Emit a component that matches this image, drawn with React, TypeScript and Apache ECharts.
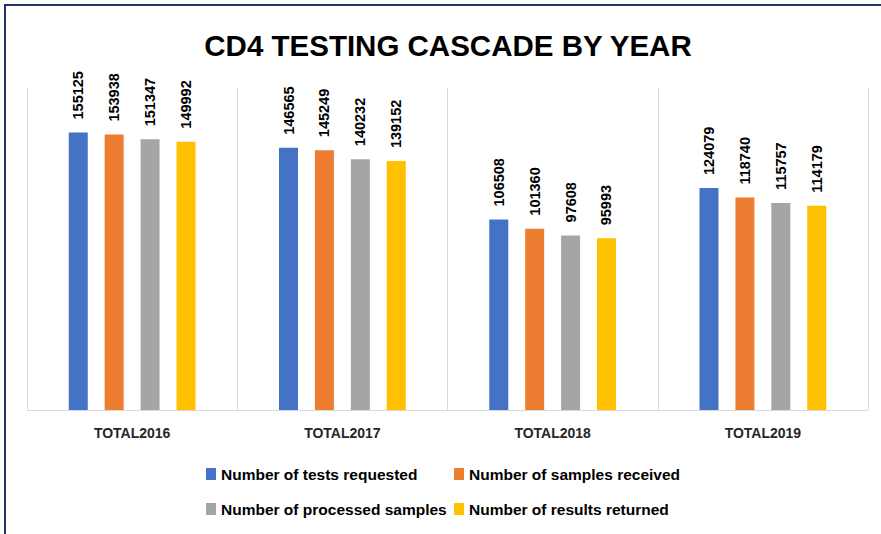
import React, { useEffect, useRef } from "react";
import * as echarts from "echarts";

const categories = ["TOTAL2016", "TOTAL2017", "TOTAL2018", "TOTAL2019"];
const seriesNames = [
  "Number of tests requested",
  "Number of samples received",
  "Number of processed samples",
  "Number of results returned",
];
const testsRequested = [155125, 146565, 106508, 124079];
const samplesReceived = [153938, 145249, 101360, 118740];
const processedSamples = [151347, 140232, 97608, 115757];
const resultsReturned = [149992, 139152, 95993, 114179];
const colors = ["#4472C4", "#ED7D31", "#A5A5A5", "#FFC000"];

const FONT = "'Liberation Sans', Arial, sans-serif";

export default function App() {
  const ref = useRef<HTMLDivElement>(null);
  useEffect(() => {
    if (!ref.current) return;
    const chart = echarts.init(ref.current, undefined, { renderer: "svg" });
    const values = [testsRequested, samplesReceived, processedSamples, resultsReturned];
    const legendPos = [
      { left: 206, top: 466 },
      { left: 454, top: 466 },
      { left: 206, top: 501 },
      { left: 454, top: 501 },
    ];
    chart.setOption({
      animation: false,
      backgroundColor: "#ffffff",
      title: {
        text: "CD4 TESTING CASCADE BY YEAR",
        left: 443,
        top: 25,
        textAlign: "center",
        textStyle: { fontFamily: FONT, fontWeight: "bold", fontSize: 29.5, color: "#000000" },
      },
      graphic: [
        {
          type: "rect",
          shape: { x: 5, y: 5, width: 900, height: 600 },
          style: { fill: "none", stroke: "#203864", lineWidth: 2 },
          silent: true,
        },
      ],
      legend: legendPos.map((p, i) => ({
        left: p.left,
        top: p.top,
        padding: 0,
        orient: "horizontal",
        data: [seriesNames[i]],
        icon: "rect",
        itemWidth: 10,
        itemHeight: 12,
        itemGap: 5,
        selectedMode: false,
        textStyle: { fontFamily: FONT, fontWeight: "bold", fontSize: 15.5, color: "#000000" },
      })),
      grid: { left: 27, right: 13, top: 88, bottom: 124, containLabel: false },
      xAxis: {
        type: "category",
        data: categories,
        axisTick: { show: false },
        axisLine: { show: true, lineStyle: { color: "#d9d9d9", width: 1 } },
        splitLine: { show: true, lineStyle: { color: "#d9d9d9", width: 1 } },
        axisLabel: {
          fontFamily: FONT,
          fontWeight: "bold",
          fontSize: 14,
          color: "#262626",
          margin: 16,
        },
      },
      yAxis: {
        type: "value",
        min: 0,
        max: 180000,
        show: false,
        splitLine: { show: false },
      },
      series: seriesNames.map((name, i) => ({
        name,
        type: "bar",
        data: values[i],
        barWidth: 19,
        barGap: "89%",
        itemStyle: { color: colors[i] },
        label: {
          show: true,
          position: "top",
          rotate: 90,
          align: "left",
          verticalAlign: "middle",
          distance: 13,
          fontFamily: FONT,
          fontWeight: "bold",
          fontSize: 14.5,
          color: "#000000",
        },
      })),
    });
    return () => chart.dispose();
  }, []);
  return (
    <div
      ref={ref}
      style={{ position: "fixed", left: 0, top: 0, width: 881, height: 534 }}
    />
  );
}
